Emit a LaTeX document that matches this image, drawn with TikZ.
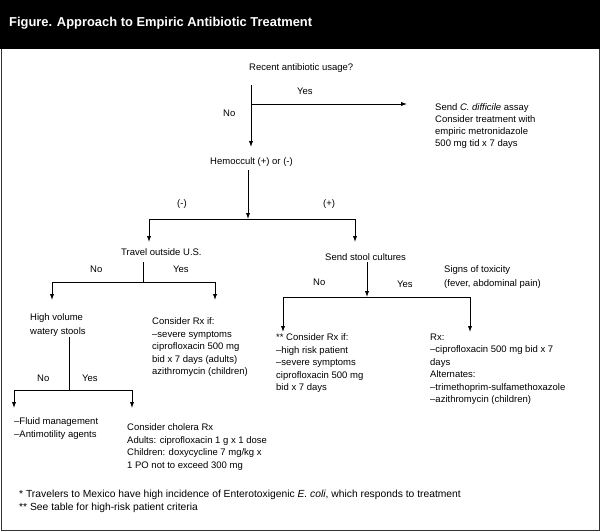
\documentclass[tikz,border=0pt]{standalone}
\usepackage{fontspec}
\setmainfont{Liberation Sans}
\usetikzlibrary{arrows.meta}
\begin{document}
\begin{tikzpicture}[x=1pt,y=-1pt,
  txt/.style={inner sep=0pt, font=\fontsize{9.5}{12.5}\selectfont, align=left},
  arr/.style={-{Latex[length=6pt,width=4.2pt]}, line width=0.8pt},
  ln/.style={line width=0.8pt}]
\useasboundingbox (0,0) rectangle (600,531);
\fill[black] (0,0) rectangle (600,49);
\draw[line width=1pt, black!80] (1,49) -- (1,530) -- (599,530) -- (599,49);
\node[anchor=west, text=white, font=\bfseries\fontsize{12.9}{14}\selectfont, inner sep=0pt] (title) at (9,23) {Figure. Approach to Empiric Antibiotic Treatment};

% texts
\node[txt, anchor=base west] (q1) at (249,70.5) {Recent antibiotic usage?};
\node[txt, anchor=base west] (yes1) at (297,94.5) {Yes};
\node[txt, anchor=base west] (no1) at (223,116.5) {No};
\node[txt, anchor=north west, font=\fontsize{9.5}{12}\selectfont] (cdiff) at (435,103.5) {Send \textit{C. difficile} assay\\Consider treatment with\\empiric metronidazole\\500 mg tid x 7 days};
\node[txt, anchor=base west] (hem) at (210,164.5) {Hemoccult (+) or (-)};
\node[txt, anchor=base west] (neg) at (177,206.5) {(-)};
\node[txt, anchor=base west] (pos) at (323,206.5) {(+)};
\node[txt, anchor=base west] (travel) at (121,255.5) {Travel outside U.S.};
\node[txt, anchor=base west] (no2) at (90,272.5) {No};
\node[txt, anchor=base west] (yes2) at (173,272.5) {Yes};
\node[txt, anchor=north west, font=\fontsize{9.5}{13.5}\selectfont] (highvol) at (30,313.5) {High volume\\watery stools};
\node[txt, anchor=north west] (rx1) at (152,317.5) {Consider Rx if:\\–severe symptoms\\ciprofloxacin 500 mg\\bid x 7 days (adults)\\azithromycin (children)};
\node[txt, anchor=base west] (no3) at (37,381.5) {No};
\node[txt, anchor=base west] (yes3) at (82,381.5) {Yes};
\node[txt, anchor=north west] (fluid) at (14,417.5) {–Fluid management\\–Antimotility agents};
\node[txt, anchor=north west] (chol) at (127,423.5) {Consider cholera Rx\\Adults: ciprofloxacin 1 g x 1 dose\\Children: doxycycline 7 mg/kg x\\1 PO not to exceed 300 mg};
\node[txt, anchor=base west] (stool) at (325,260.5) {Send stool cultures};
\node[txt, anchor=base west] (no4) at (313,285.5) {No};
\node[txt, anchor=base west] (yes4) at (397,287.5) {Yes};
\node[txt, anchor=north west, font=\fontsize{9.5}{14}\selectfont] (tox) at (444,265.5) {Signs of toxicity\\(fever, abdominal pain)};
\node[txt, anchor=north west] (rx2) at (276,333.5) {** Consider Rx if:\\–high risk patient\\–severe symptoms\\ciprofloxacin 500 mg\\bid x 7 days};
\node[txt, anchor=north west] (rx3) at (430,333.5) {Rx:\\–ciprofloxacin 500 mg bid x 7\\days\\Alternates:\\–trimethoprim-sulfamethoxazole\\–azithromycin (children)};
\node[txt, anchor=base west, font=\fontsize{10.3}{13}\selectfont] (foot1) at (19,497.5) {* Travelers to Mexico have high incidence of Enterotoxigenic \textit{E. coli}, which responds to treatment};
\node[txt, anchor=base west, font=\fontsize{10.3}{13}\selectfont] (foot2) at (19,510.5) {** See table for high-risk patient criteria};

% connectors
\coordinate (a1) at (251,85);
\coordinate (a2) at (251,147);
\coordinate (a1b) at (251,104);
\coordinate (a3) at (407,104);
\draw[arr] (a1) -- (a2);
\draw[arr] (a1b) -- (a3);

\coordinate (b1) at (248,170);
\coordinate (b2) at (248,219);
\coordinate (bl) at (149,219);
\coordinate (br) at (355,219);
\coordinate (bl2) at (149,242);
\coordinate (br2) at (355,242);
\draw[arr] (b1) -- (b2);
\draw[arr] (bl) -- (br) -- (br2);
\draw[arr] (bl) -- (bl2);

\coordinate (c0) at (143,262);
\coordinate (c1) at (143,282);
\coordinate (cl) at (52,282);
\coordinate (cr) at (215,282);
\coordinate (cl2) at (52,300);
\coordinate (cr2) at (215,300);
\draw[ln] (c0) -- (c1);
\draw[arr] (cl) -- (cr) -- (cr2);
\draw[arr] (cl) -- (cl2);

\coordinate (d0) at (69,337);
\coordinate (d1) at (69,390);
\coordinate (dl) at (14,390);
\coordinate (dr) at (132,390);
\coordinate (dl2) at (14,408);
\coordinate (dr2) at (132,408);
\draw[ln] (d0) -- (d1);
\draw[arr] (dl) -- (dr) -- (dr2);
\draw[arr] (dl) -- (dl2);

\coordinate (e0) at (367,262);
\coordinate (e1) at (367,297);
\coordinate (el) at (283,297);
\coordinate (er) at (470,297);
\coordinate (el2) at (283,332);
\coordinate (er2) at (470,332);
\draw[arr] (e0) -- (e1);
\draw[arr] (el) -- (er) -- (er2);
\draw[arr] (el) -- (el2);
\end{tikzpicture}
\end{document}
